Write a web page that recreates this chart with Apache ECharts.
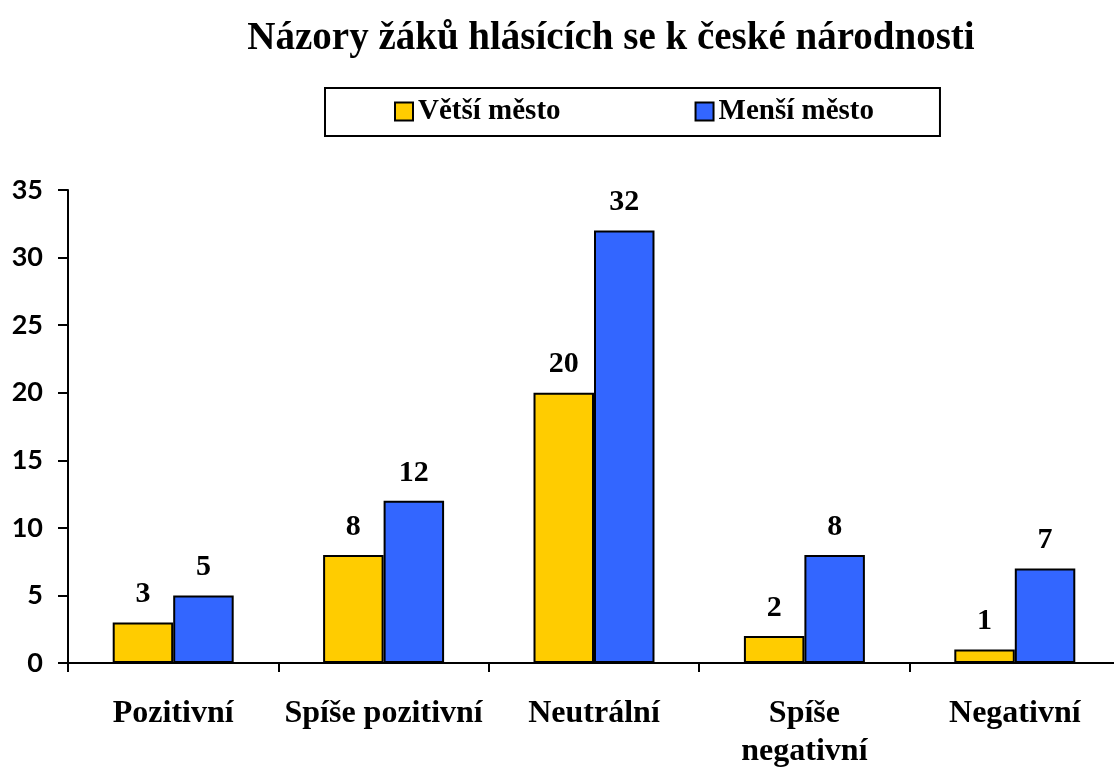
<!DOCTYPE html>
<html>
<head>
<meta charset="utf-8">
<script src="https://cdn.jsdelivr.net/npm/echarts@6/dist/echarts.min.js"></script>
<style>
  html, body { margin: 0; padding: 0; background: #fff; }
  #chart { width: 1114px; height: 767px; }
</style>
</head>
<body>
<div id="chart"></div>
<script>
// data
let categories = ['Pozitivní', 'Spíše pozitivní', 'Neutrální', 'Spíše\nnegativní', 'Negativní'];
let vetsiMesto = [3, 8, 20, 2, 1];
let mensiMesto = [5, 12, 32, 8, 7];
let seriesNames = ['Větší město', 'Menší město'];

let serif = '"Liberation Serif", "Times New Roman", serif';

let chart = echarts.init(document.getElementById('chart'));

let barLabel = {
  show: true,
  position: 'top',
  distance: 13,
  fontFamily: serif,
  fontWeight: 'bold',
  fontSize: 30,
  color: '#000'
};

let option = {
  animation: false,
  backgroundColor: '#fff',
  title: {
    text: 'Názory žáků hlásících se k české národnosti',
    left: 606,
    textAlign: 'center',
    top: 14,
    textStyle: {
      fontFamily: serif,
      fontWeight: 'bold',
      fontSize: 39,
      color: '#000'
    }
  },
  legend: {
    data: seriesNames,
    left: 325,
    top: 88,
    orient: 'horizontal',
    borderColor: '#000',
    borderWidth: 2,
    padding: [9, 66, 10, 69],
    itemGap: 134,
    itemWidth: 18,
    itemHeight: 18,
    icon: 'rect',
    textStyle: {
      fontFamily: serif,
      fontWeight: 'bold',
      fontSize: 29,
      color: '#000'
    }
  },
  grid: {
    left: 68,
    right: -6,
    top: 190,
    bottom: 104,
    containLabel: false,
    outerBoundsMode: 'none'
  },
  xAxis: {
    type: 'category',
    data: categories,
    axisLine: { lineStyle: { color: '#000', width: 2 } },
    axisTick: { show: true, length: 9, lineStyle: { color: '#000', width: 2 } },
    axisLabel: {
      margin: 32,
      interval: 0,
      fontFamily: serif,
      fontWeight: 'bold',
      fontSize: 32,
      lineHeight: 38,
      color: '#000'
    }
  },
  yAxis: {
    type: 'value',
    min: 0,
    max: 35,
    interval: 5,
    splitLine: { show: false },
    axisLine: { show: true, lineStyle: { color: '#000', width: 2 } },
    axisTick: { show: true, length: 10, lineStyle: { color: '#000', width: 2 } },
    axisLabel: {
      margin: 25,
      fontFamily: 'Lato, "Open Sans", sans-serif',
      fontWeight: 'bold',
      fontSize: 27,
      color: '#000'
    }
  },
  series: [
    {
      name: seriesNames[0],
      type: 'bar',
      data: vetsiMesto,
      barGap: '0%',
      barCategoryGap: '42.5%',
      itemStyle: { color: '#FFCC00', borderColor: '#000', borderWidth: 2 },
      label: barLabel
    },
    {
      name: seriesNames[1],
      type: 'bar',
      data: mensiMesto,
      barGap: '0%',
      barCategoryGap: '42.5%',
      itemStyle: { color: '#3366FF', borderColor: '#000', borderWidth: 2 },
      label: barLabel
    }
  ]
};

chart.setOption(option);
</script>
</body>
</html>
